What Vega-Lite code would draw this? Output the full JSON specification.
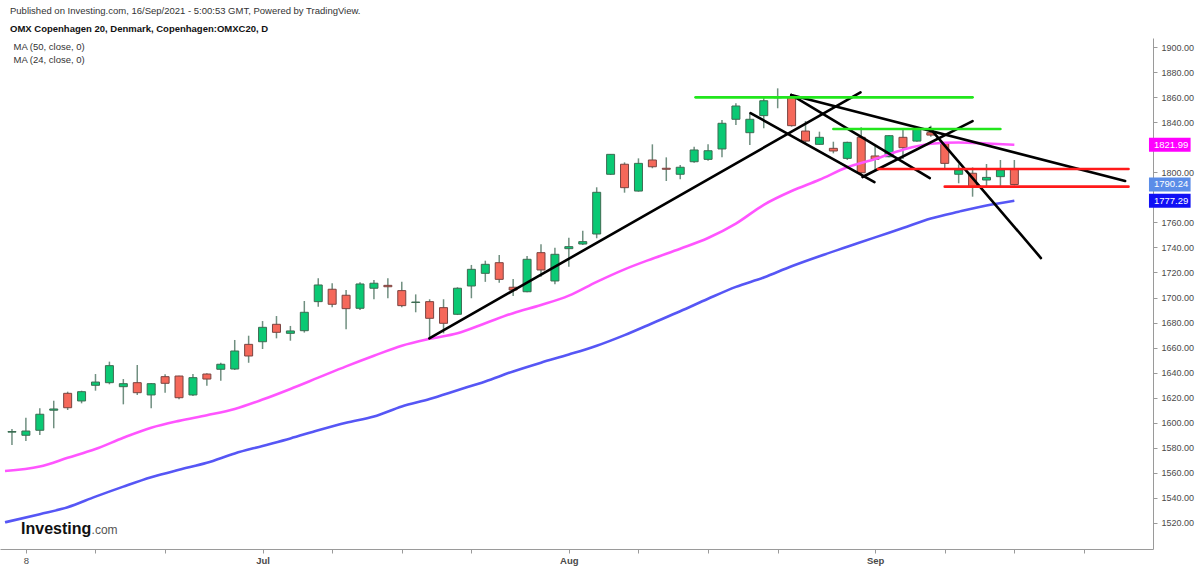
{
  "$schema": "https://vega.github.io/schema/vega-lite/v6.json",
  "width": 1153,
  "height": 511,
  "autosize": {"type": "none"},
  "padding": {"left": 0, "top": 38, "right": 47, "bottom": 17},
  "background": "#ffffff",
  "title": {
    "text": "Published on Investing.com, 16/Sep/2021 - 5:00:53 GMT, Powered by TradingView.",
    "subtitle": "OMX Copenhagen 20, Denmark, Copenhagen:OMXC20, D",
    "anchor": "start",
    "frame": "group",
    "dx": 10,
    "offset": 5,
    "font": "Liberation Sans",
    "fontSize": 9.5,
    "fontWeight": "normal",
    "color": "#333333",
    "subtitleFont": "Liberation Sans",
    "subtitleFontSize": 9.5,
    "subtitleFontWeight": "bold",
    "subtitleColor": "#111111",
    "subtitlePadding": 8
  },
  "config": {
    "view": {"stroke": null},
    "font": "Liberation Sans",
    "axis": {"grid": false, "domainColor": "#9a9a9a", "tickColor": "#9a9a9a", "labelColor": "#4a4a4a", "labelFont": "Liberation Sans", "title": null}
  },
  "datasets": {
    "candles": [
      {"i": -1, "date": "2021-06-07", "o": 1592.5, "h": 1595.0, "l": 1582.3, "c": 1593.0},
      {"i": 0, "date": "2021-06-08", "o": 1590.0, "h": 1604.0, "l": 1585.4, "c": 1593.4},
      {"i": 1, "date": "2021-06-09", "o": 1594.0, "h": 1611.5, "l": 1590.3, "c": 1606.8},
      {"i": 2, "date": "2021-06-10", "o": 1610.0, "h": 1617.6, "l": 1595.6, "c": 1611.0},
      {"i": 3, "date": "2021-06-11", "o": 1623.5, "h": 1624.8, "l": 1610.2, "c": 1612.0},
      {"i": 4, "date": "2021-06-14", "o": 1617.4, "h": 1625.6, "l": 1615.5, "c": 1624.8},
      {"i": 5, "date": "2021-06-15", "o": 1629.9, "h": 1638.9, "l": 1625.6, "c": 1632.5},
      {"i": 6, "date": "2021-06-16", "o": 1632.0, "h": 1648.8, "l": 1630.7, "c": 1645.6},
      {"i": 7, "date": "2021-06-17", "o": 1628.8, "h": 1634.9, "l": 1614.7, "c": 1631.2},
      {"i": 8, "date": "2021-06-18", "o": 1632.0, "h": 1646.1, "l": 1622.2, "c": 1624.0},
      {"i": 9, "date": "2021-06-21", "o": 1622.2, "h": 1631.7, "l": 1611.5, "c": 1631.2},
      {"i": 10, "date": "2021-06-22", "o": 1636.8, "h": 1638.7, "l": 1624.0, "c": 1631.5},
      {"i": 11, "date": "2021-06-23", "o": 1637.3, "h": 1637.5, "l": 1618.8, "c": 1620.0},
      {"i": 12, "date": "2021-06-24", "o": 1622.2, "h": 1638.9, "l": 1621.4, "c": 1636.0},
      {"i": 13, "date": "2021-06-25", "o": 1638.9, "h": 1639.5, "l": 1629.6, "c": 1634.9},
      {"i": 14, "date": "2021-06-28", "o": 1642.7, "h": 1648.0, "l": 1633.6, "c": 1646.7},
      {"i": 15, "date": "2021-06-29", "o": 1642.9, "h": 1666.1, "l": 1642.1, "c": 1657.3},
      {"i": 16, "date": "2021-06-30", "o": 1662.6, "h": 1669.5, "l": 1647.9, "c": 1653.3},
      {"i": 17, "date": "2021-07-01", "o": 1664.7, "h": 1681.2, "l": 1658.9, "c": 1676.2},
      {"i": 18, "date": "2021-07-02", "o": 1678.6, "h": 1685.2, "l": 1667.4, "c": 1672.2},
      {"i": 19, "date": "2021-07-05", "o": 1671.4, "h": 1677.3, "l": 1665.5, "c": 1673.3},
      {"i": 20, "date": "2021-07-06", "o": 1673.5, "h": 1697.2, "l": 1672.0, "c": 1688.2},
      {"i": 21, "date": "2021-07-07", "o": 1696.7, "h": 1715.3, "l": 1692.7, "c": 1710.0},
      {"i": 22, "date": "2021-07-08", "o": 1706.6, "h": 1711.4, "l": 1692.2, "c": 1694.6},
      {"i": 23, "date": "2021-07-09", "o": 1701.8, "h": 1706.0, "l": 1674.6, "c": 1691.1},
      {"i": 24, "date": "2021-07-12", "o": 1691.4, "h": 1712.2, "l": 1690.0, "c": 1710.8},
      {"i": 25, "date": "2021-07-13", "o": 1707.4, "h": 1714.0, "l": 1698.6, "c": 1711.4},
      {"i": 26, "date": "2021-07-14", "o": 1709.7, "h": 1715.3, "l": 1699.4, "c": 1708.6},
      {"i": 27, "date": "2021-07-15", "o": 1705.5, "h": 1712.6, "l": 1692.2, "c": 1693.5},
      {"i": 28, "date": "2021-07-16", "o": 1696.0, "h": 1702.5, "l": 1688.2, "c": 1696.4},
      {"i": 29, "date": "2021-07-19", "o": 1696.7, "h": 1698.6, "l": 1667.4, "c": 1683.4},
      {"i": 30, "date": "2021-07-20", "o": 1691.9, "h": 1698.6, "l": 1671.4, "c": 1679.4},
      {"i": 31, "date": "2021-07-21", "o": 1686.6, "h": 1708.2, "l": 1686.0, "c": 1707.4},
      {"i": 32, "date": "2021-07-22", "o": 1709.2, "h": 1726.0, "l": 1699.4, "c": 1722.5},
      {"i": 33, "date": "2021-07-23", "o": 1719.3, "h": 1729.4, "l": 1712.5, "c": 1726.5},
      {"i": 34, "date": "2021-07-26", "o": 1727.8, "h": 1733.9, "l": 1711.8, "c": 1714.5},
      {"i": 35, "date": "2021-07-27", "o": 1708.2, "h": 1714.8, "l": 1701.2, "c": 1706.0},
      {"i": 36, "date": "2021-07-28", "o": 1704.6, "h": 1733.1, "l": 1704.2, "c": 1730.5},
      {"i": 37, "date": "2021-07-29", "o": 1735.8, "h": 1742.5, "l": 1716.6, "c": 1722.0},
      {"i": 38, "date": "2021-07-30", "o": 1713.2, "h": 1739.8, "l": 1710.5, "c": 1734.5},
      {"i": 39, "date": "2021-08-02", "o": 1739.0, "h": 1747.8, "l": 1724.6, "c": 1740.6},
      {"i": 40, "date": "2021-08-03", "o": 1742.7, "h": 1753.3, "l": 1741.9, "c": 1744.6},
      {"i": 41, "date": "2021-08-04", "o": 1750.7, "h": 1788.0, "l": 1747.3, "c": 1784.0},
      {"i": 42, "date": "2021-08-05", "o": 1798.4, "h": 1814.6, "l": 1797.8, "c": 1814.3},
      {"i": 43, "date": "2021-08-06", "o": 1806.4, "h": 1807.9, "l": 1783.7, "c": 1787.7},
      {"i": 44, "date": "2021-08-09", "o": 1785.0, "h": 1811.1, "l": 1784.5, "c": 1807.1},
      {"i": 45, "date": "2021-08-10", "o": 1809.8, "h": 1822.3, "l": 1803.2, "c": 1804.4},
      {"i": 46, "date": "2021-08-11", "o": 1803.2, "h": 1811.9, "l": 1793.0, "c": 1802.4},
      {"i": 47, "date": "2021-08-12", "o": 1798.4, "h": 1805.8, "l": 1794.4, "c": 1804.0},
      {"i": 48, "date": "2021-08-13", "o": 1808.4, "h": 1820.4, "l": 1807.6, "c": 1817.8},
      {"i": 49, "date": "2021-08-16", "o": 1810.3, "h": 1822.3, "l": 1809.2, "c": 1817.2},
      {"i": 50, "date": "2021-08-17", "o": 1818.6, "h": 1841.7, "l": 1811.9, "c": 1839.1},
      {"i": 51, "date": "2021-08-18", "o": 1842.3, "h": 1855.1, "l": 1837.7, "c": 1852.9},
      {"i": 52, "date": "2021-08-19", "o": 1831.6, "h": 1847.1, "l": 1821.8, "c": 1842.3},
      {"i": 53, "date": "2021-08-20", "o": 1845.2, "h": 1859.8, "l": 1835.1, "c": 1857.1},
      {"i": 54, "date": "2021-08-23", "o": 1859.5, "h": 1867.0, "l": 1851.1, "c": 1860.3},
      {"i": 55, "date": "2021-08-24", "o": 1859.8, "h": 1861.7, "l": 1836.4, "c": 1837.2},
      {"i": 56, "date": "2021-08-25", "o": 1832.9, "h": 1840.9, "l": 1823.6, "c": 1824.9},
      {"i": 57, "date": "2021-08-26", "o": 1822.3, "h": 1832.4, "l": 1821.8, "c": 1827.9},
      {"i": 58, "date": "2021-08-27", "o": 1819.1, "h": 1824.4, "l": 1815.1, "c": 1817.0},
      {"i": 59, "date": "2021-08-30", "o": 1811.1, "h": 1824.4, "l": 1809.8, "c": 1823.9},
      {"i": 60, "date": "2021-08-31", "o": 1827.9, "h": 1835.9, "l": 1798.6, "c": 1799.6},
      {"i": 61, "date": "2021-09-01", "o": 1813.0, "h": 1821.8, "l": 1801.8, "c": 1810.4},
      {"i": 62, "date": "2021-09-02", "o": 1812.4, "h": 1829.7, "l": 1811.9, "c": 1829.2},
      {"i": 63, "date": "2021-09-03", "o": 1827.9, "h": 1834.3, "l": 1810.6, "c": 1819.6},
      {"i": 64, "date": "2021-09-06", "o": 1824.9, "h": 1835.1, "l": 1824.4, "c": 1834.3},
      {"i": 65, "date": "2021-09-07", "o": 1831.6, "h": 1837.2, "l": 1828.4, "c": 1829.7},
      {"i": 66, "date": "2021-09-08", "o": 1823.1, "h": 1823.6, "l": 1802.4, "c": 1807.1},
      {"i": 67, "date": "2021-09-09", "o": 1798.4, "h": 1806.4, "l": 1791.2, "c": 1801.8},
      {"i": 68, "date": "2021-09-10", "o": 1799.2, "h": 1803.9, "l": 1780.5, "c": 1788.5},
      {"i": 69, "date": "2021-09-13", "o": 1793.8, "h": 1806.6, "l": 1789.0, "c": 1795.9},
      {"i": 70, "date": "2021-09-14", "o": 1796.5, "h": 1809.8, "l": 1789.0, "c": 1801.8},
      {"i": 71, "date": "2021-09-15", "o": 1802.4, "h": 1809.8, "l": 1789.5, "c": 1790.24}
    ],
    "ma": [
      {"ma": "MA (24, close, 0)", "i": -1.5, "v": 1561.5},
      {"ma": "MA (24, close, 0)", "i": 1, "v": 1565},
      {"ma": "MA (24, close, 0)", "i": 3, "v": 1572},
      {"ma": "MA (24, close, 0)", "i": 5, "v": 1579},
      {"ma": "MA (24, close, 0)", "i": 7, "v": 1588},
      {"ma": "MA (24, close, 0)", "i": 9, "v": 1596},
      {"ma": "MA (24, close, 0)", "i": 11, "v": 1601.5},
      {"ma": "MA (24, close, 0)", "i": 13, "v": 1606},
      {"ma": "MA (24, close, 0)", "i": 15, "v": 1611},
      {"ma": "MA (24, close, 0)", "i": 17, "v": 1618.5},
      {"ma": "MA (24, close, 0)", "i": 19, "v": 1627},
      {"ma": "MA (24, close, 0)", "i": 21, "v": 1636},
      {"ma": "MA (24, close, 0)", "i": 23, "v": 1645},
      {"ma": "MA (24, close, 0)", "i": 25, "v": 1653.5},
      {"ma": "MA (24, close, 0)", "i": 27, "v": 1661.5},
      {"ma": "MA (24, close, 0)", "i": 29, "v": 1667},
      {"ma": "MA (24, close, 0)", "i": 31, "v": 1671.5},
      {"ma": "MA (24, close, 0)", "i": 33, "v": 1679.5},
      {"ma": "MA (24, close, 0)", "i": 35, "v": 1687.5},
      {"ma": "MA (24, close, 0)", "i": 37, "v": 1694},
      {"ma": "MA (24, close, 0)", "i": 39, "v": 1701.5},
      {"ma": "MA (24, close, 0)", "i": 41, "v": 1712.5},
      {"ma": "MA (24, close, 0)", "i": 43, "v": 1722.5},
      {"ma": "MA (24, close, 0)", "i": 45, "v": 1731},
      {"ma": "MA (24, close, 0)", "i": 47, "v": 1739},
      {"ma": "MA (24, close, 0)", "i": 49, "v": 1747.5},
      {"ma": "MA (24, close, 0)", "i": 51, "v": 1759},
      {"ma": "MA (24, close, 0)", "i": 53, "v": 1774},
      {"ma": "MA (24, close, 0)", "i": 55, "v": 1785},
      {"ma": "MA (24, close, 0)", "i": 57, "v": 1794},
      {"ma": "MA (24, close, 0)", "i": 59, "v": 1804},
      {"ma": "MA (24, close, 0)", "i": 61, "v": 1810.5},
      {"ma": "MA (24, close, 0)", "i": 63, "v": 1818},
      {"ma": "MA (24, close, 0)", "i": 65, "v": 1822.8},
      {"ma": "MA (24, close, 0)", "i": 67, "v": 1823.8},
      {"ma": "MA (24, close, 0)", "i": 69, "v": 1823.0},
      {"ma": "MA (24, close, 0)", "i": 71, "v": 1821.99},
      {"ma": "MA (50, close, 0)", "i": -1.5, "v": 1520.5},
      {"ma": "MA (50, close, 0)", "i": 1, "v": 1527},
      {"ma": "MA (50, close, 0)", "i": 3, "v": 1532.5},
      {"ma": "MA (50, close, 0)", "i": 5, "v": 1541},
      {"ma": "MA (50, close, 0)", "i": 7, "v": 1549},
      {"ma": "MA (50, close, 0)", "i": 9, "v": 1556.5},
      {"ma": "MA (50, close, 0)", "i": 11, "v": 1562.5},
      {"ma": "MA (50, close, 0)", "i": 13, "v": 1568},
      {"ma": "MA (50, close, 0)", "i": 15, "v": 1575.5},
      {"ma": "MA (50, close, 0)", "i": 17, "v": 1581.5},
      {"ma": "MA (50, close, 0)", "i": 19, "v": 1587.5},
      {"ma": "MA (50, close, 0)", "i": 21, "v": 1594},
      {"ma": "MA (50, close, 0)", "i": 23, "v": 1600},
      {"ma": "MA (50, close, 0)", "i": 25, "v": 1605},
      {"ma": "MA (50, close, 0)", "i": 27, "v": 1613},
      {"ma": "MA (50, close, 0)", "i": 29, "v": 1619},
      {"ma": "MA (50, close, 0)", "i": 31, "v": 1626},
      {"ma": "MA (50, close, 0)", "i": 33, "v": 1633},
      {"ma": "MA (50, close, 0)", "i": 35, "v": 1641},
      {"ma": "MA (50, close, 0)", "i": 37, "v": 1648},
      {"ma": "MA (50, close, 0)", "i": 39, "v": 1654.5},
      {"ma": "MA (50, close, 0)", "i": 41, "v": 1661.5},
      {"ma": "MA (50, close, 0)", "i": 43, "v": 1670},
      {"ma": "MA (50, close, 0)", "i": 45, "v": 1679.5},
      {"ma": "MA (50, close, 0)", "i": 47, "v": 1689},
      {"ma": "MA (50, close, 0)", "i": 49, "v": 1699},
      {"ma": "MA (50, close, 0)", "i": 51, "v": 1708.5},
      {"ma": "MA (50, close, 0)", "i": 53, "v": 1716},
      {"ma": "MA (50, close, 0)", "i": 55, "v": 1725},
      {"ma": "MA (50, close, 0)", "i": 57, "v": 1733},
      {"ma": "MA (50, close, 0)", "i": 59, "v": 1740.5},
      {"ma": "MA (50, close, 0)", "i": 61, "v": 1748},
      {"ma": "MA (50, close, 0)", "i": 63, "v": 1755.5},
      {"ma": "MA (50, close, 0)", "i": 65, "v": 1763},
      {"ma": "MA (50, close, 0)", "i": 67, "v": 1768.5},
      {"ma": "MA (50, close, 0)", "i": 69, "v": 1773.5},
      {"ma": "MA (50, close, 0)", "i": 71, "v": 1777.29}
    ],
    "drawings": [
      {"tool": "line", "i1": 28.98, "v1": 1667.4, "i2": 59.95, "v2": 1863.8},
      {"tool": "line", "i1": 54.97, "v1": 1861.7, "i2": 78.96, "v2": 1793.0},
      {"tool": "line", "i1": 54.97, "v1": 1861.7, "i2": 64.93, "v2": 1795.4},
      {"tool": "line", "i1": 52.05, "v1": 1847.3, "i2": 60.95, "v2": 1792.2},
      {"tool": "line", "i1": 60.09, "v1": 1796.2, "i2": 68.0, "v2": 1840.9},
      {"tool": "line", "i1": 64.93, "v1": 1835.3, "i2": 72.91, "v2": 1731.5},
      {"tool": "green", "i1": 48.1, "v1": 1859.8, "i2": 68.0, "v2": 1859.8},
      {"tool": "green", "i1": 58.0, "v1": 1834.5, "i2": 70.0, "v2": 1834.5},
      {"tool": "red", "i1": 61.2, "v1": 1802.6, "i2": 79.2, "v2": 1802.6},
      {"tool": "red", "i1": 66.0, "v1": 1788.5, "i2": 79.2, "v2": 1788.5}
    ],
    "badges": [
      {"name": "MA (24, close, 0)", "v": 1821.99},
      {"name": "Last", "v": 1790.24},
      {"name": "MA (50, close, 0)", "v": 1777.29}
    ],
    "logo": [
      {"part": "Investing"}
    ],
    "logoSuffix": [
      {"part": ".com"}
    ]
  },
  "encoding": {
    "x": {
      "type": "quantitative",
      "scale": {"domain": [-1.5, 80.6], "nice": false, "zero": false},
      "axis": {
        "values": [0, 5, 10, 17, 22, 27, 32, 39, 44, 49, 54, 61, 66, 71, 76],
        "labelExpr": "datum.value == 0 ? '8' : datum.value == 17 ? 'Jul' : datum.value == 39 ? 'Aug' : datum.value == 61 ? 'Sep' : ''",
        "labelFontSize": 9.5,
        "labelFontWeight": {"condition": {"test": "datum.value != 0", "value": "bold"}, "value": "normal"},
        "tickSize": 4,
        "labelPadding": 2,
        "labelFlush": false
      }
    },
    "y": {
      "type": "quantitative",
      "scale": {"domain": [1499.2, 1907.2], "nice": false, "zero": false},
      "axis": {
        "orient": "right",
        "values": [1520, 1540, 1560, 1580, 1600, 1620, 1640, 1660, 1680, 1700, 1720, 1740, 1760, 1780, 1800, 1820, 1840, 1860, 1880, 1900],
        "labelExpr": "datum.value == 1820 || datum.value == 1780 ? '' : format(datum.value, '.2f')",
        "labelFontSize": 9,
        "tickSize": 4,
        "labelPadding": 4
      }
    }
  },
  "layer": [
    {
      "mark": {"type": "rule", "color": "#6f8fe6", "strokeWidth": 1, "strokeDash": [1, 2]},
      "encoding": {"y": {"datum": 1790.24}}
    },
    {
      "data": {"name": "candles"},
      "mark": {"type": "rule", "color": "#708f80", "strokeWidth": 1.5},
      "encoding": {
        "x": {"field": "i"},
        "y": {"field": "l"},
        "y2": {"field": "h"}
      }
    },
    {
      "data": {"name": "candles"},
      "mark": {"type": "bar", "size": 8, "strokeWidth": 1},
      "encoding": {
        "x": {"field": "i"},
        "y": {"field": "o"},
        "y2": {"field": "c"},
        "fill": {"condition": {"test": "datum.c >= datum.o", "value": "#0ac974"}, "value": "#f5685a"},
        "stroke": {"condition": {"test": "datum.c >= datum.o", "value": "#3d6b52"}, "value": "#7a4440"}
      }
    },
    {
      "data": {"name": "ma"},
      "mark": {"type": "line", "strokeWidth": 2.6, "interpolate": "monotone"},
      "encoding": {
        "x": {"field": "i"},
        "y": {"field": "v"},
        "color": {
          "field": "ma",
          "type": "nominal",
          "scale": {"domain": ["MA (50, close, 0)", "MA (24, close, 0)"], "range": ["#5656f5", "#ff55ff"]},
          "legend": {
            "title": null,
            "orient": "top-left",
            "offset": 4,
            "padding": 0,
            "symbolOpacity": 0,
            "symbolStrokeWidth": 0,
            "symbolSize": 0,
            "labelOffset": 0,
            "rowPadding": 2,
            "labelFontSize": 9.5,
            "labelColor": "#333333",
            "labelFont": "Liberation Sans",
            "labelLimit": 300
          }
        }
      }
    },
    {
      "data": {"name": "drawings"},
      "mark": {"type": "rule", "strokeWidth": 2.6, "strokeCap": "round"},
      "encoding": {
        "x": {"field": "i1"},
        "y": {"field": "v1"},
        "x2": {"field": "i2"},
        "y2": {"field": "v2"},
        "stroke": {
          "field": "tool",
          "type": "nominal",
          "scale": {"domain": ["line", "green", "red"], "range": ["#000000", "#22e61c", "#ff1a1a"]},
          "legend": null
        }
      }
    },
    {
      "data": {"name": "badges"},
      "mark": {"type": "rect", "yOffset": -7, "y2Offset": 7},
      "encoding": {
        "x": {"datum": 80.67},
        "x2": {"datum": 83.66},
        "y": {"field": "v"},
        "y2": {"field": "v"},
        "fill": {
          "field": "name",
          "type": "nominal",
          "scale": {"domain": ["MA (24, close, 0)", "Last", "MA (50, close, 0)"], "range": ["#ff00ff", "#5b8de8", "#1010f5"]},
          "legend": null
        }
      }
    },
    {
      "data": {"name": "badges"},
      "mark": {"type": "text", "align": "left", "baseline": "middle", "color": "#ffffff", "fontSize": 9.5, "font": "Liberation Sans"},
      "encoding": {
        "x": {"datum": 81.03},
        "y": {"field": "v"},
        "text": {"field": "v", "type": "quantitative", "format": ".2f"}
      }
    },
    {
      "data": {"name": "logo"},
      "mark": {"type": "text", "align": "left", "baseline": "alphabetic", "fontSize": 16, "fontWeight": "bold", "font": "Liberation Sans", "color": "#111111"},
      "encoding": {"x": {"datum": -0.35}, "y": {"datum": 1511.2}, "text": {"field": "part"}}
    },
    {
      "data": {"name": "logoSuffix"},
      "mark": {"type": "text", "align": "left", "baseline": "alphabetic", "fontSize": 12, "font": "Liberation Sans", "color": "#555555"},
      "encoding": {"x": {"datum": 4.72}, "y": {"datum": 1511.2}, "text": {"field": "part"}}
    }
  ]
}
